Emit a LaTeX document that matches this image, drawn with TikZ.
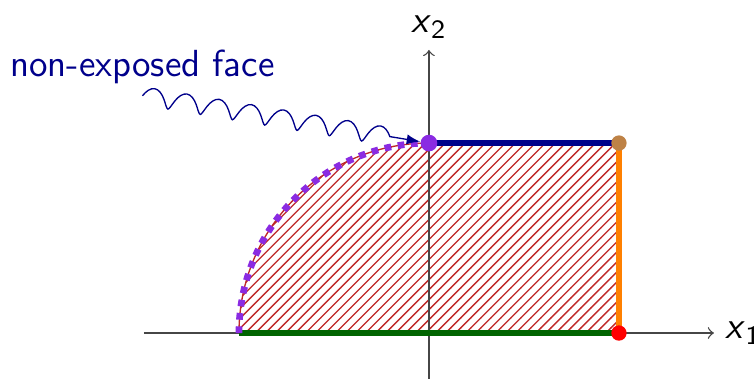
\documentclass[tikz,border=0pt]{standalone}
\usepackage{amsmath, amssymb}
\usepackage{tikz}
\usetikzlibrary{arrows, patterns, decorations.pathmorphing}

\definecolor{facenavy}{RGB}{0,0,139}
\definecolor{facegreen}{RGB}{0,100,0}
\definecolor{faceorange}{RGB}{255,128,0}
\definecolor{faceviolet}{RGB}{138,43,226}
\definecolor{facebrown}{RGB}{190,130,70}
\definecolor{hatchred}{RGB}{190,40,40}
\definecolor{axisgray}{RGB}{70,70,70}

\begin{document}
\begin{tikzpicture}[scale=2, font=\sffamily\fontsize{11.3}{13}\selectfont,
        edge/.style={line width=2pt},
        dot/.style={circle, fill=#1, inner sep=0pt, minimum size=4.6pt}]
        \useasboundingbox (-2.258,-0.237) rectangle (1.711,1.753);
        \coordinate (west) at (-1,0);
        \coordinate (corner) at (1,0);
        \coordinate (topleft) at (0,1);
        \coordinate (topright) at (1,1);
        % region
        \draw[hatchred, pattern=north east lines, pattern color=hatchred] (west) arc (180:90:1) -- (topright) -- (corner) -- cycle;
        % axes
        \draw[->, axisgray] (-1.5,0) -- (1.5,0) node[right, black] (xone) {\textit{x}\textsubscript{1}};
        \draw[->, axisgray] (0,-0.24) -- (0,1.49) node[above, black] (xtwo) {\textit{x}\textsubscript{2}};
        % faces
        \draw[edge, facegreen] (west) -- (corner);
        \draw[edge, faceorange] (corner) -- (topright);
        \draw[edge, facenavy] (topleft) -- (topright);
        \draw[line width=2pt, dotted, faceviolet] (west) arc (180:90:1);
        \node[dot=faceviolet, minimum size=5pt] (ptop) at (topleft) {};
        \node[dot=facebrown] (pright) at (topright) {};
        \node[dot=red] (pcorner) at (corner) {};
        % label
        \node[facenavy, anchor=west] (nonexp) at (-2.265,1.4) {non-exposed face};
        \draw[facenavy, ->, >=latex, decorate, decoration={coil, aspect=0.3, segment length=9.8pt, amplitude=2.7pt, post length=2pt}] (nonexp.south) -- (ptop);
\end{tikzpicture}
\end{document}
